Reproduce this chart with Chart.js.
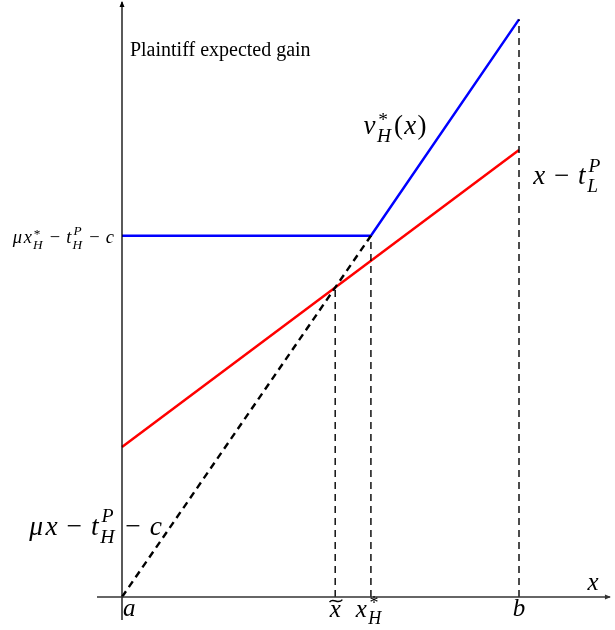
<!DOCTYPE html>
<html lang="en">
<head>
    <meta charset="UTF-8">
    <title>Plaintiff expected gain</title>
    <style>
        html, body { margin: 0; padding: 0; background: #fff; }
        canvas { display: block; }
    </style>
</head>
<body>
    <canvas id="gainChart" width="615" height="630"></canvas>

    <script src="https://cdn.jsdelivr.net/npm/chart.js"></script>
    <script>
        // points on the x axis: a, x~, x*_H, b
        const xTicks = [0, 5.37, 6.27, 10];

        // v*_H(x): flat at mu x*_H - t_H - c, then rising
        const blueX = [0, 6.27, 10];
        const blueY = [9.1, 9.1, 14.55];

        // x - t_L
        const redX = [0, 10];
        const redY = [3.78, 11.26];

        // mu x - t_H - c (dashed)
        const dashX = [0, 6.27];
        const dashY = [0, 9.1];

        // top of the vertical guides at x~, x*_H, b
        const guideTops = [7.79, 9.1, 14.55];

        // axis extents
        const xAxisRange = [-0.63, 12.29];
        const yAxisRange = [-0.58, 14.99];

        const pts = (xs, ys) => xs.map((x, i) => ({ x: x, y: ys[i] }));

        const guides = xTicks.slice(1).map((x, i) => ({
            data: [{ x: x, y: 0 }, { x: x, y: guideTops[i] }],
            borderColor: '#000', borderWidth: 1.4, borderDash: [7, 5]
        }));

        // text pieces: f = 'i' italic math, 'r' roman, op = binary operator, sup/sub = scripts
        const MINUS = { op: '\u2212' };
        const labels = [
            { x: 0.2, y: 13.63, size: 20, align: 'left', tokens: [{ t: 'Plaintiff expected gain', f: 'r' }] },
            { x: 6.05, y: 11.66, size: 27, align: 'left', tokens: [{ t: 'v', f: 'i' }, { sup: '*', sub: 'H' }, { t: '(', f: 'r' }, { t: 'x', f: 'i' }, { t: ')', f: 'r' }] },
            { x: 10.33, y: 10.40, size: 27, align: 'left', tokens: [{ t: 'x', f: 'i' }, MINUS, { t: 't', f: 'i' }, { sup: 'P', sub: 'L' }] },
            { x: -0.18, y: 8.91, size: 18.5, align: 'right', tokens: [{ t: '\u03bcx', f: 'i' }, { sup: '*', sub: 'H' }, MINUS, { t: 't', f: 'i' }, { sup: 'P', sub: 'H' }, MINUS, { t: 'c', f: 'i' }] },
            { x: -2.37, y: 1.56, size: 27.5, align: 'left', tokens: [{ t: '\u03bcx', f: 'i' }, MINUS, { t: 't', f: 'i' }, { sup: 'P', sub: 'H' }, MINUS, { t: 'c', f: 'i' }] },
            { x: 11.7, y: 0.18, size: 25, align: 'left', tokens: [{ t: 'x', f: 'i' }] },
            { x: xTicks[0], y: -0.48, size: 25, align: 'left', tokens: [{ t: 'a', f: 'i' }] },
            { x: xTicks[1], y: -0.5, size: 25, align: 'center', tokens: [{ t: 'x', f: 'i', acc: true }] },
            { x: 5.86, y: -0.5, size: 25, align: 'left', tokens: [{ t: 'x', f: 'i' }, { sup: '*', sub: 'H' }] },
            { x: xTicks[3], y: -0.48, size: 25, align: 'center', tokens: [{ t: 'b', f: 'i' }] }
        ];

        function font(f, size) {
            return (f === 'i' ? 'italic ' : '') + size + 'px "Liberation Serif", "DejaVu Serif", serif';
        }

        // italic math letters get a little extra room, as TeX fonts are wider
        function textWidth(ctx, s, f, size) {
            ctx.font = font(f, size);
            if (f !== 'i') return ctx.measureText(s).width;
            let w = 0;
            for (const ch of s) w += ctx.measureText(ch).width + size * 0.09;
            return w;
        }

        function drawText(ctx, s, f, size, x, y) {
            ctx.font = font(f, size);
            if (f !== 'i') { ctx.fillText(s, x, y); return; }
            for (const ch of s) {
                ctx.fillText(ch, x + size * 0.045, y);
                x += ctx.measureText(ch).width + size * 0.09;
            }
        }

        function tokenWidth(ctx, tok, size) {
            if (tok.t !== undefined) return textWidth(ctx, tok.t, tok.f, size);
            if (tok.op !== undefined) return textWidth(ctx, tok.op, 'r', size) + size * 0.56;
            const s = size * 0.72;
            const w1 = tok.sup ? textWidth(ctx, tok.sup, tok.sup === '*' ? 'r' : 'i', s) : 0;
            const w2 = tok.sub ? textWidth(ctx, tok.sub, 'i', s) : 0;
            return Math.max(w1, w2) + size * 0.06;
        }

        function drawMath(ctx, lab, px, py) {
            const size = lab.size;
            let total = 0;
            lab.tokens.forEach(tok => { total += tokenWidth(ctx, tok, size); });
            let x = px;
            if (lab.align === 'center') x = px - total / 2;
            if (lab.align === 'right') x = px - total;
            ctx.fillStyle = '#000';
            ctx.strokeStyle = '#000';
            ctx.textBaseline = 'alphabetic';
            ctx.textAlign = 'left';
            lab.tokens.forEach(tok => {
                const w = tokenWidth(ctx, tok, size);
                if (tok.t !== undefined) {
                    drawText(ctx, tok.t, tok.f, size, x, py);
                    if (tok.acc) {
                        // wide tilde above the letter
                        const x0 = x + size * 0.04, x1 = x + w + size * 0.02, ty = py - size * 0.64;
                        ctx.lineWidth = size * 0.055;
                        ctx.beginPath();
                        ctx.moveTo(x0, ty + size * 0.05);
                        ctx.bezierCurveTo(x0 + (x1 - x0) * 0.3, ty - size * 0.16, x0 + (x1 - x0) * 0.65, ty + size * 0.18, x1, ty - size * 0.05);
                        ctx.stroke();
                    }
                } else if (tok.op !== undefined) {
                    drawText(ctx, tok.op, 'r', size, x + size * 0.28, py);
                } else {
                    const s = size * 0.72;
                    if (tok.sup === '*') drawText(ctx, '*', 'r', s, x + size * 0.06, py - size * 0.3);
                    else if (tok.sup) drawText(ctx, tok.sup, 'i', s, x + size * 0.03, py - size * 0.46);
                    if (tok.sub) drawText(ctx, tok.sub, 'i', s, x - size * 0.02, py + size * 0.3);
                }
                x += w;
            });
        }

        const decorations = {
            id: 'decorations',
            afterDatasetsDraw(chart) {
                const ctx = chart.ctx;
                const xs = chart.scales.x, ys = chart.scales.y;
                ctx.save();
                // arrow heads on the axes
                ctx.fillStyle = '#000';
                const tx = xs.getPixelForValue(0), ty = ys.getPixelForValue(yAxisRange[1]);
                ctx.beginPath();
                ctx.moveTo(tx, ty - 1);
                ctx.lineTo(tx - 2.5, ty + 5);
                ctx.lineTo(tx + 2.5, ty + 5);
                ctx.closePath();
                ctx.fill();
                ctx.fillStyle = '#333';
                const rx = xs.getPixelForValue(xAxisRange[1]), ry = ys.getPixelForValue(0);
                ctx.beginPath();
                ctx.moveTo(rx + 1, ry);
                ctx.lineTo(rx - 5, ry - 2.5);
                ctx.lineTo(rx - 5, ry + 2.5);
                ctx.closePath();
                ctx.fill();
                labels.forEach(lab => {
                    drawMath(ctx, lab, xs.getPixelForValue(lab.x), ys.getPixelForValue(lab.y));
                });
                ctx.restore();
            }
        };

        new Chart(document.getElementById('gainChart'), {
            type: 'scatter',
            data: {
                datasets: [
                    { data: [{ x: xAxisRange[0], y: 0 }, { x: xAxisRange[1], y: 0 }], borderColor: '#333', borderWidth: 1.3 },
                    { data: [{ x: 0, y: yAxisRange[0] }, { x: 0, y: yAxisRange[1] }], borderColor: '#000', borderWidth: 1.3 },
                    ...guides,
                    { data: pts(dashX, dashY), borderColor: '#000', borderWidth: 2.4, borderDash: [7, 5] },
                    { data: pts(redX, redY), borderColor: '#ff0000', borderWidth: 2.5 },
                    { data: pts(blueX, blueY), borderColor: '#0000ff', borderWidth: 2.5 }
                ].map(d => Object.assign({ showLine: true, pointRadius: 0, fill: false, tension: 0 }, d))
            },
            options: {
                responsive: false,
                animation: false,
                events: [],
                layout: { padding: 0 },
                plugins: { legend: { display: false }, tooltip: { enabled: false } },
                scales: {
                    x: { type: 'linear', display: false, min: -3.073, max: 12.418 },
                    y: { type: 'linear', display: false, min: -0.831, max: 15.038 }
                }
            },
            plugins: [decorations]
        });
    </script>
</body>
</html>
